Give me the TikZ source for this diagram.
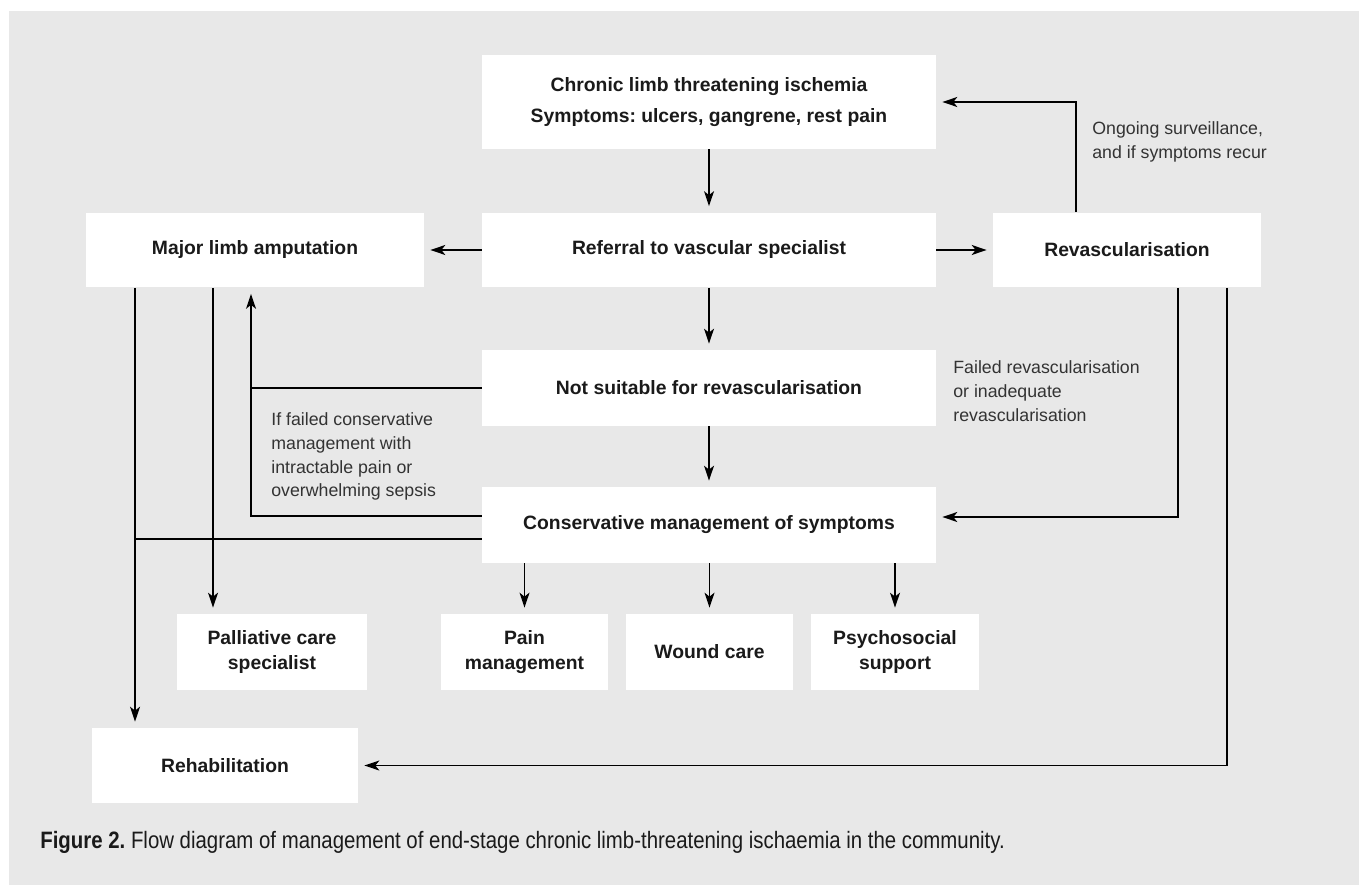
\documentclass[tikz,border=0pt]{standalone}
\usepackage{fontspec}
\setmainfont{Liberation Sans}
\setsansfont{Liberation Sans}
\newfontfamily\capfont[FakeStretch=0.86]{Liberation Sans}
\usetikzlibrary{arrows.meta}
\definecolor{panel}{RGB}{232,232,232}
\definecolor{boxtext}{RGB}{26,26,26}
\definecolor{notetext}{RGB}{51,51,51}
\frenchspacing

\begin{document}
\begin{tikzpicture}[x=0.02cm, y=-0.02cm, font=\sffamily]
    \tikzstyle{box} = [rectangle, fill=white, inner sep=0pt, align=center, text=boxtext, font=\fontsize{11}{14.5}\selectfont\bfseries]
    \tikzstyle{note} = [draw=none, fill=none, inner sep=0pt, anchor=north west, align=left, text=notetext, font=\fontsize{10.1}{13.6}\selectfont]
    \tikzstyle{link} = [line width=0.8pt, black]
    \tikzstyle{arr} = [link, shorten >=0.12cm, -{Stealth[length=0.3cm, width=0.2cm, inset=0.08cm]}]

    \useasboundingbox (0,0) rectangle (1359,885);
    \fill[panel] (9,11) rectangle (1359,885);

    % main column
    \node[box, minimum width=9.08cm, minimum height=1.88cm] (clti) at (709,102) {Chronic limb threatening ischemia\\[3.5pt]Symptoms: ulcers, gangrene, rest pain};
    \node[box, minimum width=9.08cm, minimum height=1.5cm] (referral) at (709,250) {Referral to vascular specialist};
    \node[box, minimum width=6.76cm, minimum height=1.5cm] (amput) at (255,250) {Major limb amputation};
    \node[box, minimum width=5.36cm, minimum height=1.5cm] (revasc) at (1127,250) {Revascularisation};
    \node[box, minimum width=9.08cm, minimum height=1.52cm] (notsuit) at (709,388) {Not suitable for revascularisation};
    \node[box, minimum width=9.08cm, minimum height=1.52cm] (conserv) at (709,525) {Conservative management of symptoms};

    % bottom row
    \node[box, minimum width=3.8cm, minimum height=1.52cm] (palliative) at (272,652) {Palliative care\\specialist};
    \node[box, minimum width=3.34cm, minimum height=1.52cm] (pain) at (524.5,652) {Pain\\management};
    \node[box, minimum width=3.34cm, minimum height=1.52cm] (wound) at (709.5,652) {Wound care};
    \node[box, minimum width=3.36cm, minimum height=1.52cm] (psych) at (895,652) {Psychosocial\\support};
    \node[box, minimum width=5.32cm, minimum height=1.5cm] (rehab) at (225,765.5) {Rehabilitation};

    % notes
    \node[note] (surv) at (1092,121) {Ongoing surveillance,\\and if symptoms recur};
    \node[note] (failrev) at (953,360) {Failed revascularisation\\or inadequate\\revascularisation};
    \node[note] (failcons) at (271,412) {If failed conservative\\management with\\intractable pain or\\overwhelming sepsis};

    \node[anchor=base west, inner sep=0pt, text=boxtext, font=\capfont\fontsize{13.5}{16}\selectfont] (caption) at (40,848) {\textbf{Figure 2.} Flow diagram of management of end-stage chronic limb-threatening ischaemia in the community.};

    % taps under amputation box
    \coordinate (rehabtap) at ([xshift=-2.4cm]amput.south);
    \coordinate (palltap) at ([xshift=-0.84cm]amput.south);
    \coordinate (looptap) at ([xshift=-0.08cm]amput.south);

    \draw[arr] (clti) -- (referral);
    \draw[arr] (referral) -- (amput);
    \draw[arr] (referral) -- (revasc);
    \draw[arr] (referral) -- (notsuit);
    \draw[arr] (notsuit) -- (conserv);
    \draw[arr] ([xshift=-1.02cm]revasc.north) |- (clti.east);
    \draw[arr] ([xshift=1.02cm]revasc.south) |- ([yshift=0.16cm]conserv.east);
    \draw[arr] ([xshift=2cm]revasc.south) |- (rehab.east);
    \draw[arr] (rehabtap) -- (rehabtap |- rehab.north);
    \draw[arr] (palltap) -- (palltap |- palliative.north);
    \draw[arr] ([yshift=0.18cm]conserv.west) -| (looptap);
    \draw[link] (notsuit.west) -- (notsuit.west -| looptap);
    \draw[link] ([yshift=-0.28cm]conserv.west) -- ([yshift=-0.28cm]conserv.west -| rehabtap);
    \draw[arr] (conserv.south -| pain.north) -- (pain.north);
    \draw[arr] (conserv.south -| wound.north) -- (wound.north);
    \draw[arr] (conserv.south -| psych.north) -- (psych.north);
\end{tikzpicture}
\end{document}
